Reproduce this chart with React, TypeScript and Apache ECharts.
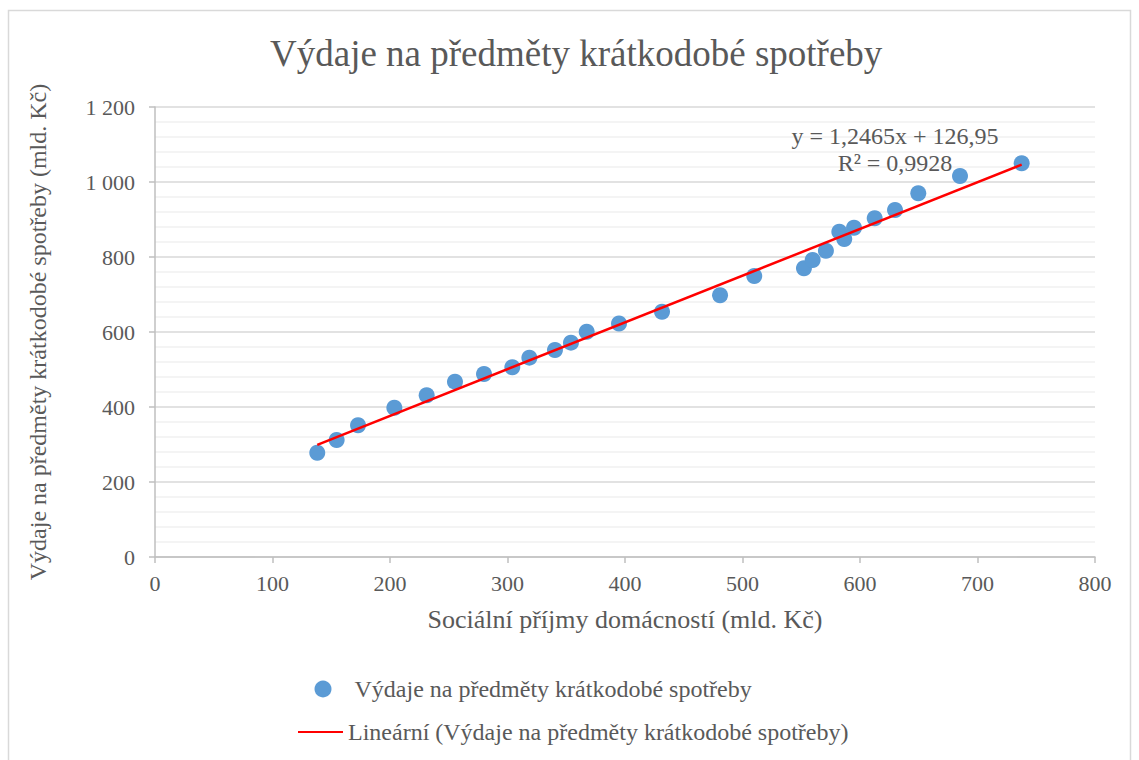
import React, { useEffect, useRef } from "react";
import * as echarts from "echarts";

const incomeX: number[] = [
  138.1, 154.6, 172.8, 203.7, 231.2, 255.3, 280.0, 304.1, 318.6, 340.4,
  354.0, 367.4, 394.9, 431.5, 480.9, 510.0, 552.3, 559.7, 571.0, 582.4,
  586.6, 594.9, 612.5, 629.8, 649.6, 685.1, 737.6,
];
const spendingY: number[] = [
  278.1, 312.0, 351.2, 398.1, 431.2, 467.5, 488.0, 505.9, 531.5, 552.0,
  571.5, 600.8, 622.7, 654.0, 697.9, 749.3, 769.9, 792.0, 816.8, 867.5,
  848.0, 878.1, 903.2, 925.3, 969.9, 1016.0, 1049.9,
];
const trendSlope = 1.2465;
const trendIntercept = 126.95;
const trendLabel = ["y = 1,2465x + 126,95", "R² = 0,9928"];

const chartTitle = "Výdaje na předměty krátkodobé spotřeby";
const seriesName = "Výdaje na předměty krátkodobé spotřeby";
const trendName = "Lineární (Výdaje na předměty krátkodobé spotřeby)";
const xAxisTitle = "Sociální příjmy domácností (mld. Kč)";
const yAxisTitle = "Výdaje na předměty krátkodobé spotřeby (mld. Kč)";

const FONT = '"Liberation Serif", "Times New Roman", serif';
const TXT = "#595959";

export default function App() {
  const ref = useRef<HTMLDivElement>(null);
  useEffect(() => {
    if (!ref.current) return;
    const chart = echarts.init(ref.current, undefined, { renderer: "svg" });
    const points = incomeX.map((x, i) => [x, spendingY[i]]);
    const xmin = Math.min(...incomeX);
    const xmax = Math.max(...incomeX);
    const trend = [
      [xmin, trendSlope * xmin + trendIntercept],
      [xmax, trendSlope * xmax + trendIntercept],
    ];
    chart.setOption({
      animation: false,
      backgroundColor: "#ffffff",
      textStyle: { fontFamily: FONT },
      title: {
        text: chartTitle,
        left: 265,
        top: 30,
        textStyle: { fontFamily: FONT, fontSize: 37, fontWeight: "normal", color: TXT },
      },
      grid: { left: 155, right: 44, top: 107, bottom: 203, containLabel: false },
      legend: [
        {
          orient: "vertical",
          left: 309.5,
          top: 672,
          itemWidth: 45,
          itemHeight: 17,
          itemStyle: { borderWidth: 0 },
          textStyle: { fontFamily: FONT, fontSize: 24, color: TXT, padding: [0, 0, 0, 4] },
          data: [{ name: seriesName, icon: "circle" }],
        },
        {
          orient: "vertical",
          left: 292,
          top: 715,
          itemWidth: 45,
          itemHeight: 17,
          textStyle: { fontFamily: FONT, fontSize: 24, color: TXT },
          data: [{ name: trendName, itemStyle: { opacity: 0 } }],
        },
      ],
      xAxis: {
        type: "value",
        min: 0,
        max: 800,
        interval: 100,
        name: xAxisTitle,
        nameLocation: "middle",
        nameGap: 49,
        nameTextStyle: { fontFamily: FONT, fontSize: 26, color: TXT },
        axisLine: { show: true, lineStyle: { color: "#bfbfbf", width: 1.5 } },
        axisTick: { show: true, length: 6, lineStyle: { color: "#bfbfbf", width: 1.5 } },
        axisLabel: { fontFamily: FONT, fontSize: 22, color: TXT, margin: 15 },
        splitLine: { show: false },
      },
      yAxis: {
        type: "value",
        min: 0,
        max: 1200,
        interval: 200,
        name: yAxisTitle,
        nameLocation: "middle",
        nameGap: 105,
        nameTextStyle: { fontFamily: FONT, fontSize: 24, color: TXT },
        axisLine: { show: true, lineStyle: { color: "#bfbfbf", width: 1.5 } },
        axisTick: { show: true, length: 6, lineStyle: { color: "#bfbfbf", width: 1.5 } },
        axisLabel: {
          fontFamily: FONT,
          fontSize: 22,
          color: TXT,
          margin: 20,
          formatter: (v: number) => String(v).replace(/\B(?=(\d{3})+(?!\d))/g, " "),
        },
        splitLine: { show: true, lineStyle: { color: "#d9d9d9", width: 1.5 } },
        minorTick: { show: false, splitNumber: 5 },
        minorSplitLine: { show: true, lineStyle: { color: "#f0f0f0", width: 1.5 } },
      },
      series: [
        {
          name: seriesName,
          type: "scatter",
          data: points,
          symbol: "circle",
          symbolSize: 16,
          itemStyle: { color: "#5b9bd5", opacity: 1 },
          z: 3,
        },
        {
          name: trendName,
          type: "line",
          data: trend,
          symbol: "none",
          lineStyle: { color: "#ff0000", width: 2.5 },
          itemStyle: { color: "#ff0000" },
          z: 4,
        },
      ],
      graphic: [
        {
          type: "rect",
          shape: { x: 8.5, y: 10.5, width: 1122, height: 760 },
          style: { fill: "none", stroke: "#d9d9d9", lineWidth: 1.5 },
          silent: true,
          z: -1,
        },
        {
          type: "text",
          x: 895,
          y: 136,
          style: {
            text: trendLabel[0],
            fontFamily: FONT,
            fontSize: 24,
            fill: TXT,
            textAlign: "center",
            textVerticalAlign: "middle",
          },
          z: 10,
        },
        {
          type: "text",
          x: 895,
          y: 163,
          style: {
            text: trendLabel[1],
            fontFamily: FONT,
            fontSize: 24,
            fill: TXT,
            textAlign: "center",
            textVerticalAlign: "middle",
          },
          z: 10,
        },
      ],
    });
    return () => chart.dispose();
  }, []);
  return <div ref={ref} style={{ width: 1139, height: 760, position: "absolute", left: 0, top: 0 }} />;
}
